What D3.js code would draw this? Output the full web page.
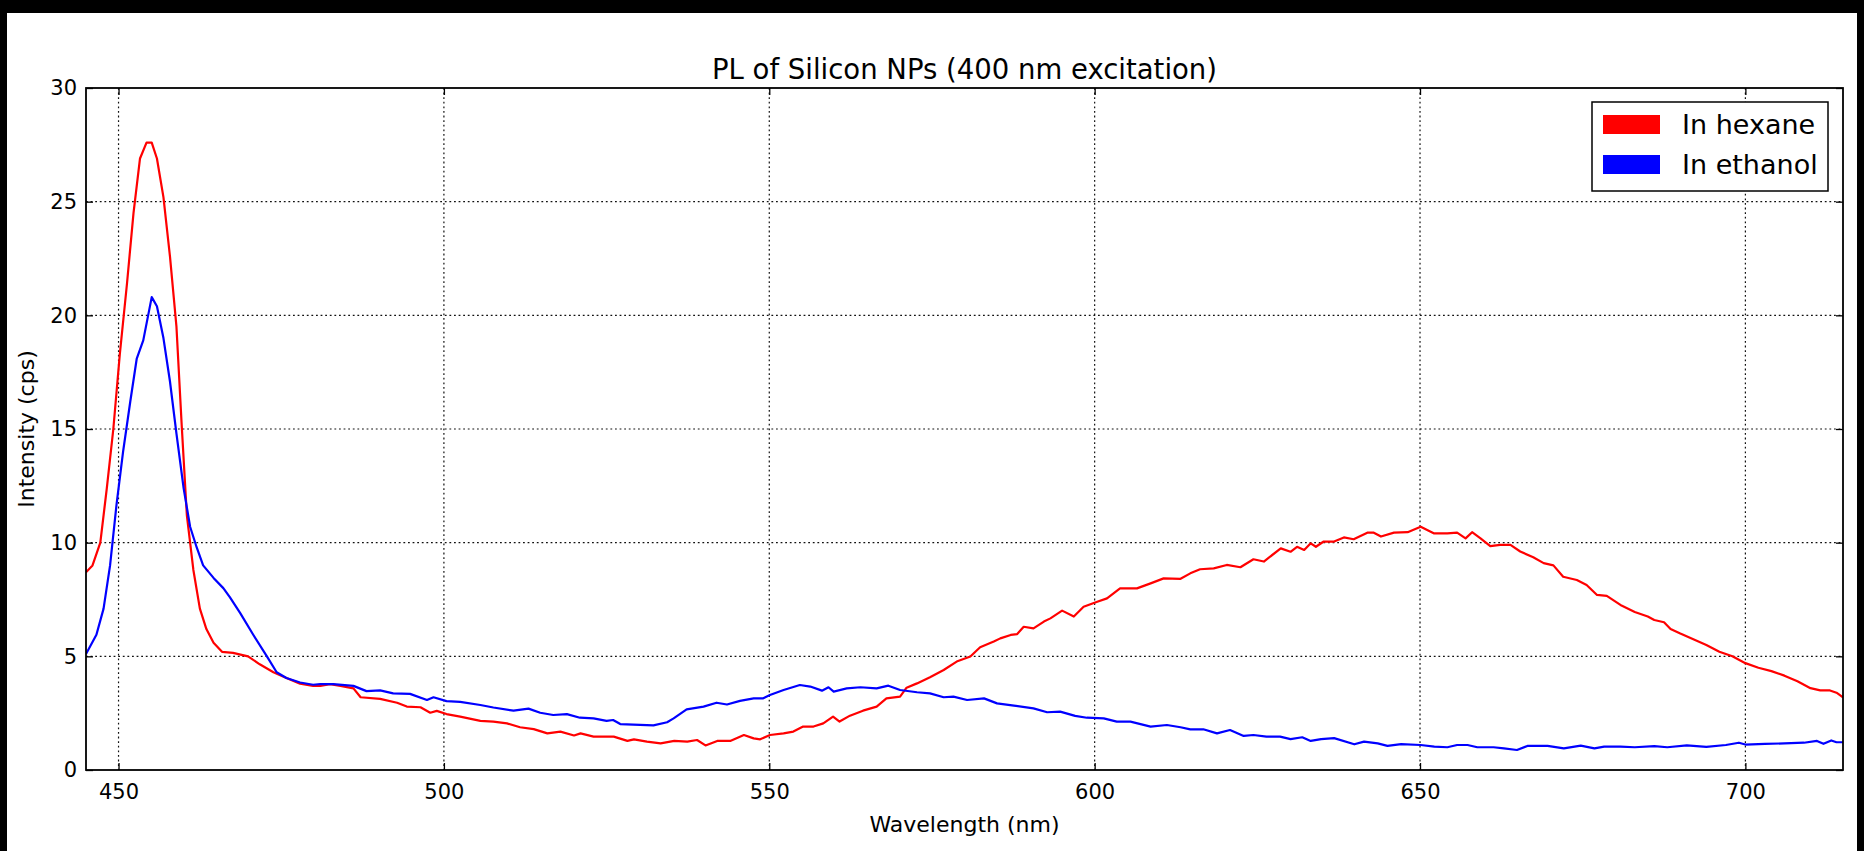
<!DOCTYPE html>
<html>
<head>
<meta charset="utf-8">
<script src="https://cdn.jsdelivr.net/npm/d3@7"></script>
<style>
  html, body { margin: 0; padding: 0; background: #000; }
  svg { display: block; }
  text { font-family: "DejaVu Sans", sans-serif; fill: #000; }
</style>
</head>
<body>
<svg id="chart" width="1864" height="851"></svg>
<script>
// ---- data ----
const title = "PL of Silicon NPs (400 nm excitation)";
const xLabel = "Wavelength (nm)";
const yLabel = "Intensity (cps)";
const seriesNames = ["In hexane", "In ethanol"];
const seriesColors = ["#ff0000", "#0000ff"];
const xTicks = [450, 500, 550, 600, 650, 700];
const yTicks = [0, 5, 10, 15, 20, 25, 30];
const xDomain = [445, 715];
const yDomain = [0, 30];

const hexaneNm = [445,446,447.2,448.2,449.2,450.2,451.3,452.3,453.3,454.3,455.1,455.9,456.9,457.9,458.9,459.7,460.5,461.5,462.5,463.5,464.6,465.9,467.6,469.9,471.7,473.8,475.8,477.9,479.9,481,482.5,484.1,486.1,487.2,490.2,492.8,494.3,496.4,497.9,498.9,500.4,502.5,505.6,507.6,509.7,511.7,513.8,515.9,517.9,520,521,523,526.1,528.2,529.2,531.2,533.3,535.4,537.4,538.9,540.2,542,544,546.1,547.6,548.6,550.1,552.2,553.7,555.2,556.8,558.3,559.8,560.8,562.4,564.4,566.5,568,570.1,571.1,572.7,574.7,576.8,578.8,580.9,582.4,584.5,585.5,587.1,588.1,589.1,590.6,592.2,593.2,595,596.8,598.3,600.4,601.9,603.9,606.5,608.6,610.6,613.2,614.7,616.2,618.3,620.3,622.4,624.4,626,628.6,630.1,631.1,632.2,633.2,634,635.2,636.8,638.3,639.8,641.9,642.9,644,646,648.1,650.1,652.1,654.2,655.7,657,658,659.3,660.8,662.3,663.9,665.4,667.4,669,670.5,672,674.1,675.6,677.2,678.7,680.8,683,685,686,687.5,688.5,690,692,694,696,698,700,702,704,706,708,710,711.5,713,714,715];
const hexaneVal = [8.7,9.0,10.0,12.4,15.0,18.3,21.4,24.5,26.9,27.6,27.6,26.9,25.2,22.6,19.5,15.2,11.2,8.8,7.1,6.2,5.6,5.2,5.15,5.0,4.65,4.3,4.05,3.8,3.7,3.7,3.78,3.7,3.59,3.2,3.13,2.96,2.79,2.76,2.52,2.6,2.46,2.35,2.16,2.13,2.05,1.88,1.8,1.61,1.69,1.52,1.61,1.47,1.47,1.28,1.35,1.25,1.17,1.28,1.25,1.32,1.08,1.28,1.28,1.54,1.39,1.35,1.54,1.61,1.69,1.91,1.91,2.05,2.35,2.13,2.39,2.61,2.79,3.15,3.23,3.62,3.81,4.08,4.4,4.77,4.99,5.4,5.65,5.79,5.94,5.98,6.3,6.23,6.53,6.67,7.01,6.75,7.18,7.4,7.55,7.99,7.99,8.21,8.43,8.41,8.65,8.83,8.87,9.02,8.92,9.27,9.17,9.75,9.6,9.82,9.68,9.97,9.82,10.05,10.05,10.23,10.15,10.44,10.44,10.27,10.44,10.46,10.7,10.41,10.41,10.44,10.19,10.46,10.19,9.85,9.9,9.9,9.61,9.36,9.1,9.0,8.5,8.36,8.14,7.7,7.66,7.26,6.95,6.75,6.6,6.5,6.2,6.0,5.75,5.5,5.2,5.0,4.7,4.5,4.35,4.15,3.9,3.6,3.5,3.5,3.4,3.2];

const ethanolNm = [445,446.6,447.7,448.7,449.7,450.7,451.8,452.8,453.8,455.1,455.9,456.9,457.9,458.9,460,461,462,463,464.6,466.1,467.1,468.7,470.7,472.8,474.3,475.8,477.9,479.9,481,483,486.1,488.1,490.2,492.2,494.8,497.4,498.4,500.4,502.5,505.6,507.6,510.7,513,514.8,516.8,518.9,520.9,523,525,526,527.1,529.1,532.2,534.3,535.3,537.3,539.9,541.9,543.5,545.5,547.6,549,550.1,552.2,554.7,556.3,558.1,559.1,559.9,561.9,564,566.5,568.3,570.1,572.7,574.7,576.8,578.3,580.4,583,585,587.6,590.6,592.7,594.7,597,598.8,601.4,603.4,605.5,608.6,611.1,613.2,614.7,616.7,618.8,620.8,622.9,624.4,626.4,628.5,630.1,631.9,633.2,634.8,636.8,639.9,641.4,643.5,645,647.1,650.1,652.2,654.2,655.7,657.3,658.8,661.3,662.9,664.9,666.5,669.6,672.1,674.7,676.8,678.3,680.8,683,686,688,691,694,697,699,700,703,706,709,711,712,713.2,714,715];
const ethanolVal = [5.1,5.95,7.1,9.0,11.7,14.0,16.2,18.1,18.9,20.8,20.4,19.0,17.1,14.8,12.4,10.7,9.8,9.0,8.45,8.0,7.6,6.9,5.95,5.0,4.3,4.05,3.85,3.75,3.78,3.78,3.7,3.47,3.5,3.37,3.35,3.08,3.2,3.03,3.0,2.86,2.75,2.61,2.7,2.52,2.42,2.46,2.3,2.27,2.16,2.2,2.02,2.0,1.96,2.1,2.27,2.67,2.79,2.96,2.88,3.04,3.15,3.15,3.3,3.52,3.74,3.67,3.49,3.64,3.45,3.59,3.64,3.59,3.71,3.52,3.42,3.37,3.2,3.23,3.08,3.15,2.93,2.83,2.71,2.54,2.57,2.38,2.3,2.27,2.13,2.13,1.91,1.98,1.88,1.79,1.79,1.61,1.76,1.5,1.54,1.47,1.47,1.36,1.44,1.28,1.36,1.4,1.13,1.25,1.17,1.06,1.14,1.1,1.03,1.0,1.1,1.1,1.0,1.0,0.95,0.88,1.06,1.06,0.95,1.07,0.95,1.03,1.03,1.0,1.05,1.0,1.08,1.02,1.1,1.2,1.12,1.15,1.17,1.2,1.28,1.15,1.3,1.22,1.22];

// ---- layout ----
const W = 1864, H = 851;
const plot = { left: 86, right: 1843, top: 88, bottom: 770 };

const svg = d3.select("#chart");
// figure background (black frame edges as in the picture)
svg.append("rect").attr("x", 7).attr("y", 13).attr("width", 1850).attr("height", H - 13).attr("fill", "#fff");
svg.append("rect").attr("x", plot.left).attr("y", plot.top)
  .attr("width", plot.right - plot.left).attr("height", plot.bottom - plot.top).attr("fill", "#fff");

const x = d3.scaleLinear().domain(xDomain).range([plot.left, plot.right]);
const y = d3.scaleLinear().domain(yDomain).range([plot.bottom, plot.top]);

// grid
const grid = svg.append("g").attr("stroke", "#111").attr("stroke-width", 1.2).attr("stroke-dasharray", "1.8,2.8");
grid.selectAll(".gx").data(xTicks).join("line")
  .attr("x1", d => x(d)).attr("x2", d => x(d)).attr("y1", plot.top).attr("y2", plot.bottom);
grid.selectAll(".gy").data(yTicks.filter(v => v > yDomain[0] && v < yDomain[1])).join("line")
  .attr("x1", plot.left).attr("x2", plot.right).attr("y1", d => y(d)).attr("y2", d => y(d));

// clip
svg.append("clipPath").attr("id", "clip").append("rect")
  .attr("x", plot.left).attr("y", plot.top).attr("width", plot.right - plot.left).attr("height", plot.bottom - plot.top);

const line = d3.line().x(d => x(d[0])).y(d => y(d[1]));
const series = [
  d3.zip(hexaneNm, hexaneVal),
  d3.zip(ethanolNm, ethanolVal)
];
svg.append("g").attr("clip-path", "url(#clip)")
  .selectAll("path").data(series).join("path")
  .attr("d", line).attr("fill", "none")
  .attr("stroke", (d, i) => seriesColors[i]).attr("stroke-width", 2.2)
  .attr("stroke-linejoin", "round");

// axes (inward ticks on all sides)
const tickLen = 7;
const axB = svg.append("g").attr("transform", `translate(0,${plot.bottom})`)
  .call(d3.axisBottom(x).tickValues(xTicks).tickSizeInner(-tickLen).tickSizeOuter(0).tickPadding(14));
const axT = svg.append("g").attr("transform", `translate(0,${plot.top})`)
  .call(d3.axisTop(x).tickValues(xTicks).tickSizeInner(-tickLen).tickSizeOuter(0).tickFormat(""));
const axL = svg.append("g").attr("transform", `translate(${plot.left},0)`)
  .call(d3.axisLeft(y).tickValues(yTicks).tickSizeInner(-tickLen).tickSizeOuter(0).tickPadding(9));
const axR = svg.append("g").attr("transform", `translate(${plot.right},0)`)
  .call(d3.axisRight(y).tickValues(yTicks).tickSizeInner(-tickLen).tickSizeOuter(0).tickFormat(""));
[axB, axT, axL, axR].forEach(a => {
  a.select(".domain").remove();
  a.selectAll(".tick line").attr("stroke", "#000").attr("stroke-width", 1.3);
  a.selectAll("text").attr("font-size", 21).attr("font-family", "DejaVu Sans").attr("fill", "#000");
});

// frame
svg.append("rect").attr("x", plot.left).attr("y", plot.top)
  .attr("width", plot.right - plot.left).attr("height", plot.bottom - plot.top)
  .attr("fill", "none").attr("stroke", "#000").attr("stroke-width", 1.8);

// title & labels
svg.append("text").attr("x", (plot.left + plot.right) / 2).attr("y", 79)
  .attr("text-anchor", "middle").attr("font-size", 27.5).text(title);
svg.append("text").attr("x", (plot.left + plot.right) / 2).attr("y", 832)
  .attr("text-anchor", "middle").attr("font-size", 22).text(xLabel);
svg.append("text").attr("transform", `translate(34,${(plot.top + plot.bottom) / 2}) rotate(-90)`)
  .attr("text-anchor", "middle").attr("font-size", 22).text(yLabel);

// legend
const lg = svg.append("g");
lg.append("rect").attr("x", 1592).attr("y", 102).attr("width", 236).attr("height", 89)
  .attr("fill", "#fff").attr("stroke", "#000").attr("stroke-width", 1.5);
seriesNames.forEach((name, i) => {
  const yy = 115 + i * 40;
  lg.append("rect").attr("x", 1603).attr("y", yy).attr("width", 57).attr("height", 19)
    .attr("fill", seriesColors[i]);
  lg.append("text").attr("x", 1682).attr("y", yy + 19).attr("font-size", 27).text(name);
});
</script>
</body>
</html>
